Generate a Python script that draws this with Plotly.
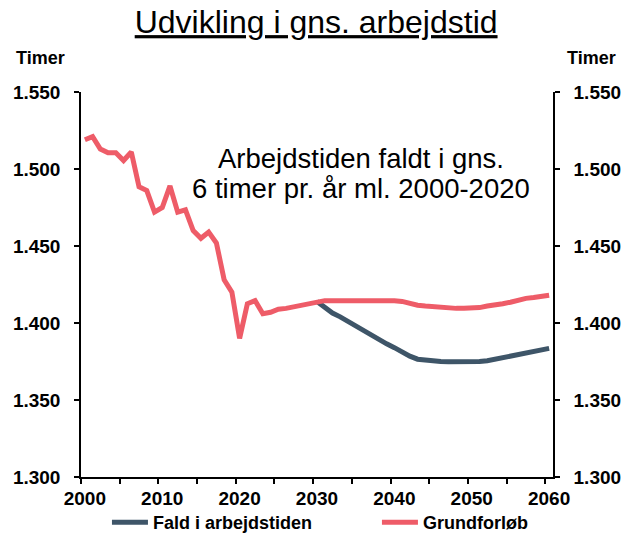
import plotly.graph_objects as go

# Gns. arbejdstid (timer pr. år)
years_base = list(range(2000, 2061))
grundforloeb = [
    1519, 1521, 1513, 1510.5, 1510.5, 1505.5, 1511, 1488.5, 1486, 1472,
    1475, 1489, 1472, 1473.5, 1460, 1455, 1459, 1452, 1428, 1420,
    1390, 1412.5, 1414.5, 1406, 1407, 1409, 1409.5, 1410.5, 1411.5, 1413,
    1414, 1414.5, 1414.5, 1414.5, 1414.5, 1415, 1415, 1415, 1415, 1414.5,
    1414.5, 1414, 1412.5, 1411.5, 1411, 1410.5, 1410.5, 1410, 1409.5, 1409.5,
    1409.5, 1410, 1411, 1411.5, 1412.5, 1413.5, 1415, 1416, 1416.5, 1417.5,
    1418,
]

years_fald = list(range(2030, 2061))
fald = [
    1414, 1410, 1406.5, 1404, 1401, 1398, 1395, 1392.5, 1389.5, 1386.5,
    1384, 1381, 1378.5, 1376.5, 1375.8, 1375.3, 1375, 1374.8, 1374.7, 1374.7,
    1374.8, 1375, 1375.5, 1376.5, 1377.5, 1378.5, 1380, 1381, 1381.5, 1382.5,
    1383.5,
]

xlabels = [2000, 2010, 2020, 2030, 2040, 2050, 2060]
yticks = [1300, 1350, 1400, 1450, 1500, 1550]

BLUE = "#3E5568"
RED = "#EE5C68"
FONT = "Liberation Sans, Arial, sans-serif"
TICKFONT = dict(size=19, family=FONT, weight="bold")

fig = go.Figure()
fig.add_trace(go.Scatter(x=years_fald, y=fald, mode="lines", name="Fald i arbejdstiden",
                         line=dict(color=BLUE, width=5), legend="legend"))
fig.add_trace(go.Scatter(x=years_base, y=grundforloeb, mode="lines", name="Grundforløb",
                         line=dict(color=RED, width=5), legend="legend2"))
# dummy trace so the right axis is drawn
fig.add_trace(go.Scatter(x=years_base, y=grundforloeb, yaxis="y2", mode="lines",
                         line=dict(width=0), showlegend=False, hoverinfo="skip"))

yaxis_common = dict(
    range=[1300, 1550], tickvals=yticks, tickformat=",d", ticks="outside", ticklen=5,
    tickcolor="black", tickwidth=1.5, showgrid=False, zeroline=False,
    showline=True, linecolor="black", linewidth=1.5, ticklabelstandoff=10,
    tickfont=TICKFONT, automargin=False,
)

legend_common = dict(orientation="h", xanchor="left", y=-0.118, yanchor="middle",
                     font=dict(size=18, family=FONT, weight="bold"),
                     itemwidth=36, bgcolor="rgba(0,0,0,0)")

fig.update_layout(
    width=626, height=548,
    paper_bgcolor="white", plot_bgcolor="white",
    margin=dict(l=81, r=73, t=92, b=71, autoexpand=False),
    separators=",.",
    font=dict(family=FONT, color="black"),
    title=dict(text="<u>Udvikling i gns. arbejdstid</u>", x=0.505, xanchor="center",
               y=0.96, yanchor="middle", font=dict(size=32)),
    xaxis=dict(
        range=[1999.5, 2060.5], tickvals=xlabels, ticks="", showgrid=False, zeroline=False,
        showline=True, linecolor="black", linewidth=1.5, automargin=False,
        tickfont=TICKFONT, ticklabelstandoff=3,
        minor=dict(tickvals=[1999.5 + 5 * k for k in range(13)], ticks="outside",
                   ticklen=5, tickcolor="black", tickwidth=1.5, showgrid=False),
    ),
    yaxis=yaxis_common,
    yaxis2=dict(yaxis_common, overlaying="y", side="right"),
    legend=dict(legend_common, x=0.055),
    legend2=dict(legend_common, x=0.627),
    showlegend=True,
)

fig.add_annotation(text="Timer", xref="paper", yref="paper", x=-0.143, y=1.0875,
                   xanchor="left", yanchor="middle", showarrow=False,
                   font=dict(size=18, weight="bold"))
fig.add_annotation(text="Timer", xref="paper", yref="paper", x=1.137, y=1.0875,
                   xanchor="right", yanchor="middle", showarrow=False,
                   font=dict(size=18, weight="bold"))
for txt, ypos in [("Arbejdstiden faldt i gns.", 0.827), ("6 timer pr. år ml. 2000-2020", 0.749)]:
    fig.add_annotation(text=txt, xref="paper", yref="paper", x=0.593, y=ypos,
                       xanchor="center", yanchor="middle", showarrow=False,
                       font=dict(size=27.5))

fig.write_html("out.html", config={"displayModeBar": False},
               post_script="document.body.style.margin='0';")
